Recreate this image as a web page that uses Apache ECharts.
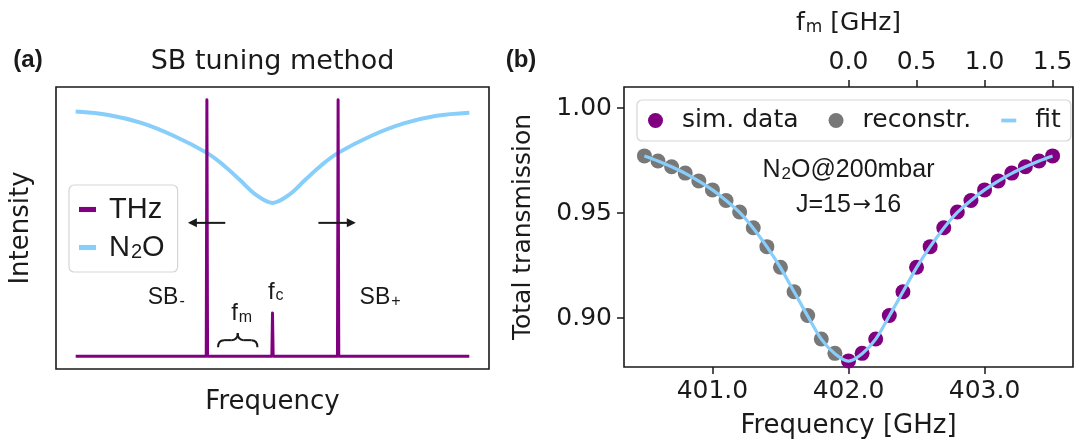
<!DOCTYPE html>
<html>
<head>
<meta charset="utf-8">
<script src="https://cdn.jsdelivr.net/npm/echarts@6/dist/echarts.min.js"></script>
<style>
  html, body { margin: 0; padding: 0; background: #ffffff; }
  #chart { width: 1077px; height: 448px; }
</style>
</head>
<body>
<div id="chart"></div>
<script>
// ---- Panel (a): schematic spectrum, arbitrary units ----
const thzFreq      = [-3.0, -1.01, -1.0, -0.99, -0.01, 0.0, 0.01, 0.99, 1.0, 1.01, 3.0];
const thzIntensity = [0, 0, 1.0, 0, 0, 0.168, 0, 0, 1.0, 0, 0];
const n2oFreq      = [-3.0, -2.5, -2.0, -1.5, -1.0, -0.75, -0.5, -0.25, 0.0, 0.25, 0.5, 0.75, 1.0, 1.5, 2.0, 2.5, 3.0];
const n2oIntensity = [0.954, 0.941, 0.910, 0.859, 0.793, 0.746, 0.688, 0.629, 0.598, 0.629, 0.688, 0.746, 0.793, 0.859, 0.908, 0.938, 0.950];

// ---- Panel (b): N2O J=15->16 line at 200 mbar ----
const lineCentre = 402.0;                        // GHz
const fmOffsets = [0.0, 0.1, 0.2, 0.3, 0.4, 0.5, 0.6, 0.7, 0.8, 0.9, 1.0, 1.1, 1.2, 1.3, 1.4, 1.5];
const simTransmission = [0.8796, 0.8832, 0.8900, 0.9012, 0.9125, 0.9242, 0.9340, 0.9430,
                         0.9505, 0.9560, 0.9610, 0.9653, 0.9690, 0.9720, 0.9748, 0.9772];
const reconFreq = [400.5, 400.6, 400.7, 400.8, 400.9, 401.0, 401.1, 401.2, 401.3, 401.4, 401.5, 401.6, 401.7, 401.8, 401.9];
const reconTransmission = [0.9772, 0.9748, 0.9720, 0.9690, 0.9653, 0.9610, 0.9560, 0.9505,
                           0.9430, 0.9340, 0.9242, 0.9125, 0.9012, 0.8900, 0.8832];
const fitFreq = [400.5, 400.6, 400.7, 400.8, 400.9, 401.0, 401.1, 401.2, 401.3, 401.4, 401.5,
                 401.6, 401.7, 401.8, 401.9, 402.0, 402.1, 402.2, 402.3, 402.4, 402.5, 402.6,
                 402.7, 402.8, 402.9, 403.0, 403.1, 403.2, 403.3, 403.4, 403.5];
const fitTransmission = [0.9772, 0.9748, 0.9720, 0.9689, 0.9652, 0.9610, 0.9560, 0.9503, 0.9428, 0.9340, 0.9240,
                         0.9125, 0.9010, 0.8900, 0.8830, 0.8795, 0.8830, 0.8900, 0.9010, 0.9125, 0.9240,
                         0.9340, 0.9428, 0.9503, 0.9560, 0.9610, 0.9652, 0.9689, 0.9720, 0.9748, 0.9772];
const freqTicks  = [401.0, 402.0, 403.0];
const fmTicks    = [0.0, 0.5, 1.0, 1.5];
const transTicks = [0.90, 0.95, 1.00];

const SANS = 'DejaVu Sans';
const ARIAL = 'Liberation Sans';
const INK = '#1a1a1a';
const PURPLE = '#800080';
const SKY = '#87cefa';
const GREY = '#787878';

const pairs = (xs, ys) => xs.map((x, i) => [x, ys[i]]);
const subStyle = (size, family) => ({ s: { fontSize: size, fontFamily: family, color: INK, verticalAlign: 'bottom', lineHeight: size, padding: [0, 0, 0, 1] } });

const chart = echarts.init(document.getElementById('chart'));

const tickStyle = { show: true, length: 7, inside: false, lineStyle: { color: INK, width: 1.5 } };
const labelStyle = { fontFamily: SANS, fontSize: 25, color: INK };
const noLine = { show: false, onZero: false };

const option = {
  animation: false,
  backgroundColor: '#ffffff',
  grid: [
    { left: 56, top: 87, width: 433, height: 282, show: true, borderColor: INK, borderWidth: 1.6, backgroundColor: 'transparent' },
    { left: 624, top: 87, width: 449, height: 280, show: true, borderColor: INK, borderWidth: 1.6, backgroundColor: 'transparent' }
  ],
  xAxis: [
    { gridIndex: 0, type: 'value', min: -3.3, max: 3.3,
      axisLine: noLine, axisTick: { show: false }, axisLabel: { show: false }, splitLine: { show: false },
      name: 'Frequency', nameLocation: 'middle', nameGap: 20,
      nameTextStyle: { fontFamily: SANS, fontSize: 26, color: INK } },
    { gridIndex: 1, type: 'value', min: 400.35, max: 403.65, position: 'bottom',
      axisLine: noLine,
      axisTick: Object.assign({ customValues: freqTicks }, tickStyle),
      axisLabel: Object.assign({ customValues: freqTicks, formatter: v => v.toFixed(1), margin: 12 }, labelStyle),
      splitLine: { show: false },
      name: 'Frequency [GHz]', nameLocation: 'middle', nameGap: 46,
      nameTextStyle: { fontFamily: SANS, fontSize: 26, color: INK } },
    { gridIndex: 1, type: 'value', min: -1.65, max: 1.65, position: 'top',
      axisLine: noLine,
      axisTick: Object.assign({ customValues: fmTicks }, tickStyle),
      axisLabel: Object.assign({ customValues: fmTicks, formatter: v => v.toFixed(1), margin: 12 }, labelStyle),
      splitLine: { show: false },
      name: 'f{s|m} [GHz]', nameLocation: 'middle', nameGap: 51,
      nameTextStyle: { fontFamily: SANS, fontSize: 25, color: INK, rich: subStyle(17, SANS) } }
  ],
  yAxis: [
    { gridIndex: 0, type: 'value', min: -0.05, max: 1.05,
      axisLine: noLine, axisTick: { show: false }, axisLabel: { show: false }, splitLine: { show: false },
      name: 'Intensity', nameLocation: 'middle', nameGap: 22,
      nameTextStyle: { fontFamily: SANS, fontSize: 26, color: INK } },
    { gridIndex: 1, type: 'value', min: 0.8767, max: 1.01,
      axisLine: noLine,
      axisTick: Object.assign({ customValues: transTicks }, tickStyle),
      axisLabel: Object.assign({ customValues: transTicks, formatter: v => v.toFixed(2), margin: 12 }, labelStyle),
      splitLine: { show: false },
      name: 'Total transmission', nameLocation: 'middle', nameGap: 88,
      nameTextStyle: { fontFamily: SANS, fontSize: 25, color: INK } }
  ],
  legend: [
    { data: [
        { name: 'THz', icon: 'path://M0,0h15v4.5h-15z' },
        { name: 'N2O', icon: 'path://M0,0h15v4.5h-15z' }
      ],
      orient: 'vertical', left: 69, top: 185, itemWidth: 17, itemHeight: 17, itemGap: 9,
      padding: [10, 13, 10, 10], borderColor: '#d5d5d5', borderWidth: 1.2, borderRadius: 5,
      backgroundColor: 'rgba(255,255,255,0.85)',
      formatter: name => name === 'N2O' ? 'N{s|2}O' : name,
      textStyle: { fontFamily: ARIAL, fontSize: 29, color: INK, padding: [0, 0, 0, 8], rich: subStyle(20, ARIAL) }
    },
    { data: [
        { name: 'sim. data', icon: 'circle' },
        { name: 'reconstr.', icon: 'circle' },
        { name: 'fit', icon: 'path://M0,0h14v3.5h-14z' }
      ],
      orient: 'horizontal', left: 637, top: 100, itemWidth: 15, itemHeight: 15, itemGap: 30,
      padding: [8, 10, 8, 11], borderColor: '#d5d5d5', borderWidth: 1.2, borderRadius: 5,
      backgroundColor: 'rgba(255,255,255,0.85)',
      textStyle: { fontFamily: SANS, fontSize: 25, color: INK, padding: [0, 0, 0, 14] }
    }
  ],
  series: [
    { name: 'N2O', type: 'line', xAxisIndex: 0, yAxisIndex: 0, data: pairs(n2oFreq, n2oIntensity),
      smooth: 0.35, showSymbol: false, symbol: 'none', z: 2,
      lineStyle: { color: SKY, width: 4 }, itemStyle: { color: SKY } },
    { name: 'THz', type: 'line', xAxisIndex: 0, yAxisIndex: 0, data: pairs(thzFreq, thzIntensity),
      showSymbol: false, symbol: 'none', z: 3,
      lineStyle: { color: PURPLE, width: 3, join: 'round' }, itemStyle: { color: PURPLE } },
    { name: 'reconstr.', type: 'scatter', xAxisIndex: 1, yAxisIndex: 1, data: pairs(reconFreq, reconTransmission),
      symbolSize: 15, z: 2, itemStyle: { color: GREY, opacity: 1 } },
    { name: 'sim. data', type: 'scatter', xAxisIndex: 1, yAxisIndex: 1,
      data: pairs(fmOffsets.map(f => +(lineCentre + f).toFixed(2)), simTransmission),
      symbolSize: 15, z: 3, itemStyle: { color: PURPLE, opacity: 1 } },
    { name: 'fit', type: 'line', xAxisIndex: 1, yAxisIndex: 1, data: pairs(fitFreq, fitTransmission),
      smooth: 0.3, showSymbol: false, symbol: 'none', z: 4,
      lineStyle: { color: SKY, width: 3.2 }, itemStyle: { color: SKY } }
  ]
};
chart.setOption(option);

// ---- Annotations, placed through the axes' own coordinate systems ----
const pa = (x, y) => chart.convertToPixel({ gridIndex: 0 }, [x, y]);
const pb = (x, y) => chart.convertToPixel({ gridIndex: 1 }, [x, y]);

function label(pt, text, font, rich, extra) {
  return {
    type: 'text', x: pt[0], y: pt[1], z: 20,
    style: Object.assign({ text, font, fill: INK, align: 'center', verticalAlign: 'middle', rich: rich || {} }, extra || {})
  };
}
function arrow(from, to) {
  const dir = Math.sign(to[0] - from[0]);
  const hx = to[0], hy = to[1], L = 9, W = 4.5;
  return [
    { type: 'line', z: 20, shape: { x1: from[0], y1: from[1], x2: hx - dir * L * 0.8, y2: hy }, style: { stroke: INK, lineWidth: 2 } },
    { type: 'polygon', z: 20, shape: { points: [[hx, hy], [hx - dir * L, hy - W], [hx - dir * L, hy + W]] }, style: { fill: INK } }
  ];
}
function brace(x0, x1, yTop, yBot) {
  const xm = (x0 + x1) / 2, ym = (yTop + yBot) / 2, r = 6;
  const st = { stroke: INK, lineWidth: 2, fill: null };
  return [
    { type: 'bezierCurve', z: 20, shape: { x1: x0, y1: yBot, cpx1: x0, cpy1: ym, x2: x0 + r, y2: ym }, style: st },
    { type: 'line', z: 20, shape: { x1: x0 + r, y1: ym, x2: xm - r, y2: ym }, style: st },
    { type: 'bezierCurve', z: 20, shape: { x1: xm - r, y1: ym, cpx1: xm, cpy1: ym, x2: xm, y2: yTop }, style: st },
    { type: 'bezierCurve', z: 20, shape: { x1: xm, y1: yTop, cpx1: xm, cpy1: ym, x2: xm + r, y2: ym }, style: st },
    { type: 'line', z: 20, shape: { x1: xm + r, y1: ym, x2: x1 - r, y2: ym }, style: st },
    { type: 'bezierCurve', z: 20, shape: { x1: x1 - r, y1: ym, cpx1: x1, cpy1: ym, x2: x1, y2: yBot }, style: st }
  ];
}

const arialSub = subStyle(16, ARIAL);
const bL = pa(-0.83, 0.035), bR = pa(-0.23, 0.035), bT = pa(-0.53, 0.09);

const elements = [
  label([28, 60], '(a)', `bold 24px "${ARIAL}"`),
  label([521, 60], '(b)', `bold 24px "${ARIAL}"`),
  label([272.5, 62], 'SB tuning method', `27px "${SANS}"`),
  label(pa(-1.62, 0.227), 'SB{s|-}', `23px "${ARIAL}"`, arialSub),
  label(pa(1.64, 0.227), 'SB{s|+}', `23px "${ARIAL}"`, arialSub),
  label(pa(0.05, 0.25), 'f{s|c}', `24px "${ARIAL}"`, arialSub),
  label(pa(-0.47, 0.168), 'f{s|m}', `24px "${ARIAL}"`, arialSub),
  label(pb(402.0, 0.9705), 'N{s|2}O@200mbar', `25px "${ARIAL}"`, subStyle(17, ARIAL)),
  label(pb(402.0, 0.9538), 'J=15{a|\u2192}16', `25px "${ARIAL}"`,
        { a: { fontFamily: SANS, fontSize: 22, color: INK, padding: [0, 2, 0, 2] } })
]
  .concat(arrow(pa(-0.72, 0.52), pa(-1.29, 0.52)))
  .concat(arrow(pa(0.70, 0.52), pa(1.27, 0.52)))
  .concat(brace(bL[0], bR[0], bT[1], bL[1]));

chart.setOption({ graphic: { elements } });
</script>
</body>
</html>
